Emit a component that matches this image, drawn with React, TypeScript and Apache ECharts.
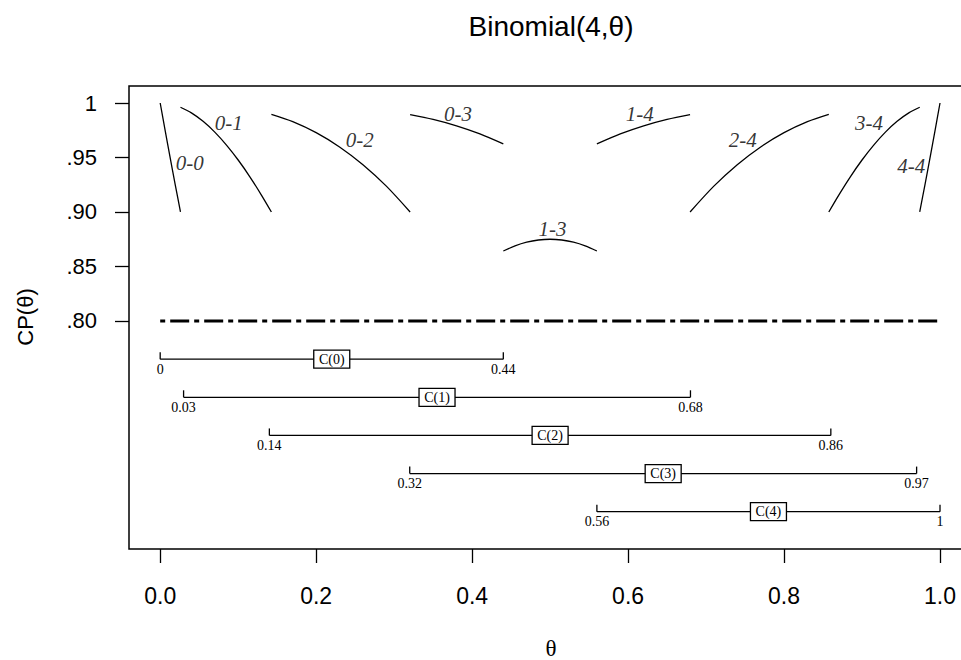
import React, { useEffect, useRef } from "react";
import * as echarts from "echarts";

// Coverage probability curves, one per acceptance set "a-b" of Binomial(4, θ)
const cp00: [number, number][] = [[0, 1.0], [0.0065, 0.9742], [0.013, 0.949], [0.0195, 0.9243], [0.026, 0.9]];
const cp01: [number, number][] = [[0.026, 0.9961], [0.04, 0.9909], [0.055, 0.9832], [0.07, 0.9733], [0.085, 0.9614], [0.1, 0.9477], [0.115, 0.9323], [0.13, 0.9153], [0.1426, 0.9]];
const cp02: [number, number][] = [[0.1426, 0.9896], [0.17, 0.9829], [0.2, 0.9728], [0.23, 0.9597], [0.26, 0.9434], [0.29, 0.9237], [0.3205, 0.9]];
const cp03: [number, number][] = [[0.3205, 0.9894], [0.35, 0.985], [0.38, 0.9791], [0.41, 0.9717], [0.44, 0.9625]];
const cp13: [number, number][] = [[0.44, 0.8642], [0.455, 0.8689], [0.47, 0.8723], [0.485, 0.8743], [0.5, 0.875], [0.515, 0.8743], [0.53, 0.8723], [0.545, 0.8689], [0.56, 0.8642]];
const cp14: [number, number][] = [[0.56, 0.9625], [0.59, 0.9717], [0.62, 0.9791], [0.65, 0.985], [0.6795, 0.9894]];
const cp24: [number, number][] = [[0.6795, 0.9], [0.71, 0.9237], [0.74, 0.9434], [0.77, 0.9597], [0.8, 0.9728], [0.83, 0.9829], [0.8574, 0.9896]];
const cp34: [number, number][] = [[0.8574, 0.9], [0.87, 0.9153], [0.885, 0.9323], [0.9, 0.9477], [0.915, 0.9614], [0.93, 0.9733], [0.945, 0.9832], [0.96, 0.9909], [0.974, 0.9961]];
const cp44: [number, number][] = [[0.974, 0.9], [0.9805, 0.9243], [0.987, 0.949], [0.9935, 0.9742], [1, 1.0]];

const curves = [cp00, cp01, cp02, cp03, cp13, cp14, cp24, cp34, cp44];

// Curve labels and where they sit
const curveLabels = ["0-0", "0-1", "0-2", "0-3", "1-3", "1-4", "2-4", "3-4", "4-4"];
const labelTheta = [0.038, 0.088, 0.256, 0.382, 0.503, 0.615, 0.747, 0.909, 0.963];
const labelCP = [0.9446, 0.982, 0.9663, 0.9897, 0.8845, 0.9897, 0.9657, 0.9812, 0.9426];

// Nominal level
const nominalLevel = 0.8;

// Confidence intervals C(x), x = 0..4
const intervalNames = ["C(0)", "C(1)", "C(2)", "C(3)", "C(4)"];
const intervalLower = [0, 0.03, 0.14, 0.32, 0.56];
const intervalUpper = [0.44, 0.68, 0.86, 0.97, 1];
const intervalRow = [0.765, 0.73, 0.695, 0.66, 0.625];

// Axis ticks
const xTicks = [0, 0.2, 0.4, 0.6, 0.8, 1.0];
const yTicks = [1, 0.95, 0.9, 0.85, 0.8];
const yTickLabels = ["1", ".95", ".90", ".85", ".80"];

const SANS = "'Liberation Sans', Arial, sans-serif";
const SERIF = "'Liberation Serif', 'Times New Roman', serif";

export default function App() {
  const ref = useRef<HTMLDivElement>(null);

  useEffect(() => {
    if (!ref.current) return;
    const chart = echarts.init(ref.current, undefined, { renderer: "svg" });

    const curveSeries = curves.map((data, i) => ({
      type: "line",
      name: curveLabels[i],
      data,
      showSymbol: false,
      smooth: 0.3,
      lineStyle: { color: "#000", width: 1.3 },
      silent: true,
      z: 3,
    }));

    const option: any = {
      animation: false,
      backgroundColor: "#fff",
      grid: {
        left: 129,
        top: 86,
        right: 28.8,
        bottom: 111,
        show: true,
        borderColor: "#000",
        borderWidth: 1.5,
        backgroundColor: "transparent",
      },
      xAxis: {
        type: "value",
        min: -0.04,
        max: 1.04,
        axisLine: { show: false, onZero: false },
        splitLine: { show: false },
        axisTick: {
          show: true,
          length: 14,
          customValues: xTicks,
          lineStyle: { color: "#000", width: 1.3 },
        },
        axisLabel: {
          customValues: xTicks,
          formatter: (v: number) => v.toFixed(1),
          color: "#000",
          fontFamily: SANS,
          fontSize: 23,
          lineHeight: 23,
          margin: 35,
        },
      },
      yAxis: {
        type: "value",
        min: 0.5908,
        max: 1.0156,
        axisLine: { show: false, onZero: false },
        splitLine: { show: false },
        axisTick: {
          show: true,
          length: 14,
          customValues: yTicks,
          lineStyle: { color: "#000", width: 1.3 },
        },
        axisLabel: {
          customValues: yTicks,
          formatter: (v: number) => {
            const i = yTicks.findIndex((t) => Math.abs(t - v) < 1e-6);
            return i >= 0 ? yTickLabels[i] : "";
          },
          color: "#000",
          fontFamily: SANS,
          fontSize: 22,
          margin: 32,
        },
      },
      graphic: [
        {
          type: "text",
          x: 551,
          y: 26,
          style: {
            text: "Binomial(4,θ)",
            fontFamily: SANS,
            fontSize: 28,
            fill: "#000",
            align: "center",
            verticalAlign: "middle",
          },
        },
        {
          type: "text",
          x: 551,
          y: 648,
          style: {
            text: "θ",
            fontFamily: SERIF,
            fontSize: 23,
            fill: "#000",
            align: "center",
            verticalAlign: "middle",
          },
        },
        {
          type: "text",
          x: 25,
          y: 317,
          rotation: Math.PI / 2,
          style: {
            text: "CP(θ)",
            fontFamily: SANS,
            fontSize: 22,
            fill: "#000",
            align: "center",
            verticalAlign: "middle",
          },
        },
      ],
      series: [
        ...curveSeries,
        {
          type: "scatter",
          name: "curve labels",
          data: curveLabels.map((t, i) => [labelTheta[i], labelCP[i], t]),
          symbolSize: 0,
          silent: true,
          label: {
            show: true,
            position: "inside",
            formatter: (p: any) => p.data[2],
            fontFamily: SERIF,
            fontStyle: "italic",
            fontSize: 21,
            color: "#000",
          },
          z: 4,
        },
        {
          type: "line",
          name: "nominal",
          data: [[0, nominalLevel], [1, nominalLevel]],
          showSymbol: false,
          silent: true,
          lineStyle: { color: "#000", width: 3, type: [5, 5, 19, 5], cap: "butt" },
          z: 3,
        },
        {
          type: "custom",
          name: "intervals",
          data: intervalNames.map((_, i) => [intervalLower[i], intervalUpper[i], intervalRow[i]]),
          silent: true,
          clip: false,
          z: 5,
          renderItem: (params: any, api: any) => {
            const i = params.dataIndex;
            const lo = api.value(0);
            const hi = api.value(1);
            const row = api.value(2);
            const a = api.coord([lo, row]);
            const b = api.coord([hi, row]);
            const m = api.coord([(lo + hi) / 2, row]);
            const stroke = { stroke: "#000", lineWidth: 1.3 };
            const endFont = { fontFamily: SERIF, fontSize: 14, fill: "#000", align: "center", verticalAlign: "middle" };
            const boxW = 36;
            const boxH = 18;
            return {
              type: "group",
              children: [
                { type: "line", shape: { x1: a[0], y1: a[1], x2: b[0], y2: b[1] }, style: stroke },
                { type: "line", shape: { x1: a[0], y1: a[1] - 7, x2: a[0], y2: a[1] }, style: stroke },
                { type: "line", shape: { x1: b[0], y1: b[1] - 7, x2: b[0], y2: b[1] }, style: stroke },
                { type: "text", style: { ...endFont, text: String(intervalLower[i]), x: a[0], y: a[1] + 10 } },
                { type: "text", style: { ...endFont, text: String(intervalUpper[i]), x: b[0], y: b[1] + 10 } },
                {
                  type: "rect",
                  shape: { x: m[0] - boxW / 2, y: m[1] - boxH / 2, width: boxW, height: boxH },
                  style: { fill: "#fff", stroke: "#000", lineWidth: 1.3 },
                },
                {
                  type: "text",
                  style: {
                    text: intervalNames[i],
                    x: m[0],
                    y: m[1],
                    fontFamily: SERIF,
                    fontSize: 14,
                    fill: "#000",
                    align: "center",
                    verticalAlign: "middle",
                  },
                },
              ],
            };
          },
        },
      ],
    };

    chart.setOption(option);
    return () => chart.dispose();
  }, []);

  return (
    <div
      style={{
        position: "fixed",
        left: 0,
        top: 0,
        width: 961,
        height: 660,
        overflow: "hidden",
        background: "#fff",
      }}
    >
      <div ref={ref} style={{ width: 1000, height: 660 }} />
    </div>
  );
}
